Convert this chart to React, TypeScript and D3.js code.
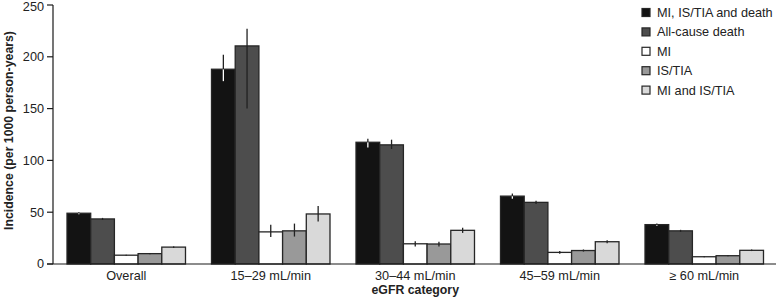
import React from "react";
import * as d3 from "d3";

const categories = ["Overall", "15\u201329 mL/min", "30\u201344 mL/min", "45\u201359 mL/min", "\u2265 60 mL/min"];
const seriesNames = ["MI, IS/TIA and death", "All-cause death", "MI", "IS/TIA", "MI and IS/TIA"];
const seriesColors = ["#131313", "#4d4d4d", "#ffffff", "#999999", "#d9d9d9"];

// values per series, per category
const compositeValues = [49, 188, 117.5, 65.5, 38];
const deathValues = [43.5, 210.5, 115, 59.5, 32];
const miValues = [8.5, 31, 19.5, 11.2, 7];
const isTiaValues = [10, 32, 19.3, 13, 8];
const miIsTiaValues = [16.3, 48.3, 32.5, 21.5, 13.2];

const compositeLow = [48, 176.5, 112.5, 63, 37];
const compositeHigh = [50, 202, 121, 68, 39];
const deathLow = [42.5, 150, 111, 58, 31];
const deathHigh = [44.5, 227, 120, 61, 33];
const miLow = [8, 26, 17, 10, 6.5];
const miHigh = [9, 38, 22, 12.5, 7.5];
const isTiaLow = [9.5, 26.5, 17, 12, 7.5];
const isTiaHigh = [10.5, 39, 21.5, 14, 8.5];
const miIsTiaLow = [15.5, 41, 30, 20, 12.5];
const miIsTiaHigh = [17, 56, 35, 23, 14];

const yTicks = [0, 50, 100, 150, 200, 250];

const values = [compositeValues, deathValues, miValues, isTiaValues, miIsTiaValues];
const lows = [compositeLow, deathLow, miLow, isTiaLow, miIsTiaLow];
const highs = [compositeHigh, deathHigh, miHigh, isTiaHigh, miIsTiaHigh];

const W = 777;
const H = 298;
const FONT = "'Liberation Sans', Arial, Helvetica, sans-serif";

export default function App() {
  const axisX = 53;
  const y = d3.scaleLinear().domain([0, 250]).range([264, 5]);
  const x0 = d3.scaleBand<string>().domain(categories).range([54, 776.5]).paddingInner(0.18).paddingOuter(0.09);
  const x1 = d3.scaleBand<number>().domain(d3.range(seriesNames.length)).range([0, x0.bandwidth()]);
  const stroke = "#262626";
  const fs = 12.7;

  return (
    <svg width={W} height={H} style={{ position: "absolute", left: 0, top: 0, background: "#fff" }} fontFamily={FONT}>
      {/* bars */}
      {categories.map((c, ci) => (
        <g key={c} transform={`translate(${x0(c)},0)`}>
          {values.map((vals, si) => (
            <rect
              key={si}
              x={x1(si)!}
              y={y(vals[ci])}
              width={x1.bandwidth()}
              height={y(0) - y(vals[ci])}
              fill={seriesColors[si]}
              stroke={stroke}
              strokeWidth={1.3}
            />
          ))}
          {values.map((vals, si) => {
            const cx = x1(si)! + x1.bandwidth() / 2;
            const lowColor = si === 0 ? "#ffffff" : "#222";
            return (
              <g key={"e" + si}>
                <line x1={cx} x2={cx} y1={y(lows[si][ci])} y2={y(vals[ci])} stroke={lowColor} strokeWidth={1.3} />
                <line x1={cx} x2={cx} y1={y(vals[ci])} y2={y(highs[si][ci])} stroke="#222" strokeWidth={1.3} />
              </g>
            );
          })}
        </g>
      ))}

      {/* axes */}
      <line x1={axisX} x2={axisX} y1={y(250)} y2={y(0)} stroke="#1a1a1a" strokeWidth={1.2} />
      <line x1={47} x2={776} y1={y(0)} y2={y(0)} stroke="#1a1a1a" strokeWidth={1.2} />
      {yTicks.map((t) => (
        <g key={t}>
          <line x1={47} x2={axisX} y1={y(t)} y2={y(t)} stroke="#1a1a1a" strokeWidth={1.2} />
          <text x={44} y={Math.max(y(t), 6.5)} dy="0.35em" textAnchor="end" fontSize={fs} fill="#222">
            {t}
          </text>
        </g>
      ))}
      <text
        transform={`translate(12.5,${(y(0) + y(250)) / 2 - 4}) rotate(-90)`}
        textAnchor="middle"
        fontSize={12.3}
        fontWeight="bold"
        fill="#222"
      >
        Incidence (per 1000 person-years)
      </text>

      {/* x labels */}
      {categories.map((c) => (
        <text key={c} x={x0(c)! + x0.bandwidth() / 2} y={280} textAnchor="middle" fontSize={fs} fill="#222">
          {c}
        </text>
      ))}
      <text x={x0(categories[2])! + x0.bandwidth() / 2} y={293.5} textAnchor="middle" fontSize={12.3} fontWeight="bold" fill="#222">
        eGFR category
      </text>

      {/* legend */}
      {seriesNames.map((n, i) => (
        <g key={n} transform={`translate(642,${12.5 + i * 19.4})`}>
          <rect x={0} y={-4} width={8} height={8} fill={seriesColors[i]} stroke={stroke} strokeWidth={1.2} />
          <text x={15} y={0} dy="0.36em" fontSize={fs} fill="#222">
            {n}
          </text>
        </g>
      ))}
    </svg>
  );
}
